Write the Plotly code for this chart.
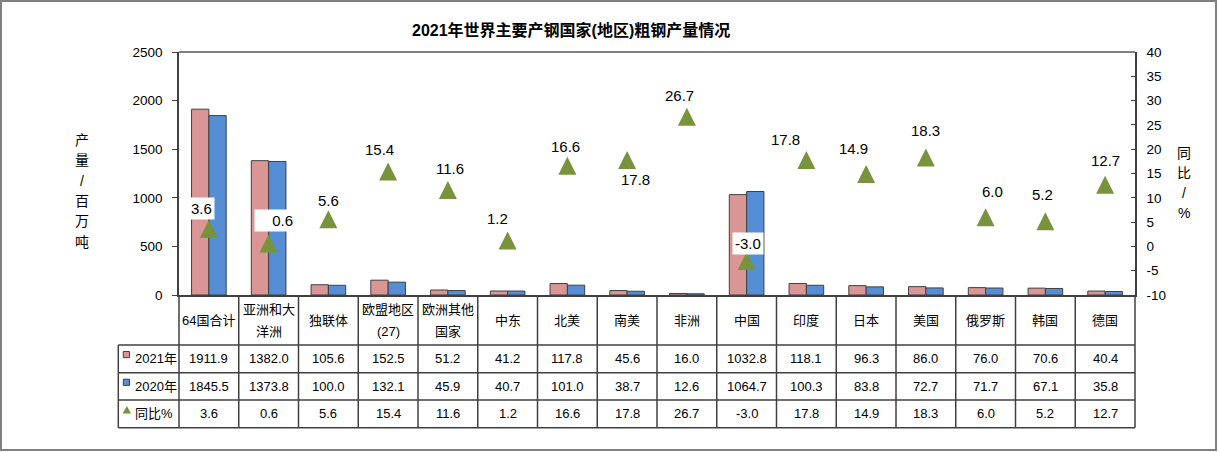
import plotly.graph_objects as go

# ---------------- data ----------------
title = "2021年世界主要产钢国家(地区)粗钢产量情况"
categories = ["64国合计", "亚洲和大洋洲", "独联体", "欧盟地区(27)", "欧洲其他国家", "中东", "北美",
              "南美", "非洲", "中国", "印度", "日本", "美国", "俄罗斯", "韩国", "德国"]
prod_2021 = [1911.9, 1382.0, 105.6, 152.5, 51.2, 41.2, 117.8, 45.6, 16.0, 1032.8, 118.1, 96.3, 86.0, 76.0, 70.6, 40.4]
prod_2020 = [1845.5, 1373.8, 100.0, 132.1, 45.9, 40.7, 101.0, 38.7, 12.6, 1064.7, 100.3, 83.8, 72.7, 71.7, 67.1, 35.8]
yoy = [3.6, 0.6, 5.6, 15.4, 11.6, 1.2, 16.6, 17.8, 26.7, -3.0, 17.8, 14.9, 18.3, 6.0, 5.2, 12.7]
series_names = ["2021年", "2020年", "同比%"]
left_title = "产量/百万吨"
right_title = "同比/%"
right_ticks = [-10, -5, 0, 5, 10, 15, 20, 25, 30, 35, 40]

# ---------------- layout helpers ----------------
W, H = 1219, 452
ML, MR, MT, MB = 179, 84, 52, 157
PW, PH = W - ML - MR, H - MT - MB
n = len(categories)

def px(x):
    return (x - ML) / PW

def py(y):
    return (H - MB - y) / PH

FONT = "Liberation Sans, Arial, Noto Sans CJK SC, sans-serif"
C21, C20, CY = "#D99694", "#558ED5", "#77933C"
EDGE = "#404040"

# label offsets (dx, dy px) and white-box flags for the yoy labels
label_off = [(-7, 20), (6, 23), (0, 19), (-9, 22), (2, 22), (-10, 22), (-2, 19), (8, -20),
             (-7, 21), (1.5, 17), (-21, 20), (-13, 25), (0, 27), (7, 26), (-3, 27), (0, 24)]
label_box = {0: None, 1: 36, 9: None}

fig = go.Figure()
fig.add_trace(go.Bar(x=categories, y=prod_2021, name=series_names[0],
                     marker=dict(color=C21, line=dict(color=EDGE, width=1))))
fig.add_trace(go.Bar(x=categories, y=prod_2020, name=series_names[1],
                     marker=dict(color=C20, line=dict(color=EDGE, width=1))))
fig.add_trace(go.Scatter(x=categories, y=yoy, name=series_names[2], yaxis="y2", mode="markers",
                         marker=dict(symbol="arrow-down", angle=180, standoff=9, size=18,
                                     color=CY, line=dict(width=0))))

ann = []
shapes = []

# title
ann.append(dict(text="<b>" + title + "</b>", xref="paper", yref="paper", x=px(571), y=py(30.5),
                xanchor="center", yanchor="middle", showarrow=False,
                font=dict(size=16, family=FONT, color="black")))

# axis titles (stacked characters)
for i, ch in enumerate(left_title):
    ann.append(dict(text=ch, xref="paper", yref="paper", x=px(82), y=py(140 + i * 20.3),
                    xanchor="center", yanchor="middle", showarrow=False,
                    font=dict(size=14, family=FONT, color="black")))
for i, ch in enumerate(right_title):
    ann.append(dict(text=ch, xref="paper", yref="paper", x=px(1184), y=py(152.5 + i * 20.3),
                    xanchor="center", yanchor="middle", showarrow=False,
                    font=dict(size=14, family=FONT, color="black")))

# yoy data labels
for i, (c, v) in enumerate(zip(categories, yoy)):
    dx, dy = label_off[i]
    a = dict(text=f"{v:.1f}", x=c, y=v, xref="x", yref="y2", showarrow=False,
             xanchor="center", yanchor="middle", xshift=dx, yshift=dy,
             font=dict(size=15, family=FONT, color="black"))
    if i in label_box:
        a["bgcolor"] = "white"
        a["borderpad"] = 2
        if label_box[i]:
            a["width"] = label_box[i]
            a["align"] = "right"
    ann.append(a)

# ---------------- data table ----------------
rows_y = [295, 345, 372.7, 400, 427.7]
x_left = 118.3

def wrap(s, limit=8):
    w = 0
    for i, ch in enumerate(s):
        w += 2 if ord(ch) > 255 else 1
        if w > limit:
            return [s[:i], s[i:]]
    return [s]

for c in categories:
    lines = wrap(c)
    if len(lines) == 1:
        ys = [320]
    else:
        ys = [309.5, 331.5]
    for t, yy in zip(lines, ys):
        ann.append(dict(text=t, x=c, xref="x", y=py(yy), yref="paper", showarrow=False,
                        xanchor="center", yanchor="middle",
                        font=dict(size=13, family=FONT, color="black")))

table_rows = [prod_2021, prod_2020, yoy]
for r, vals in enumerate(table_rows):
    yc = (rows_y[r + 1] + rows_y[r + 2]) / 2
    for c, v in zip(categories, vals):
        ann.append(dict(text=f"{v:.1f}", x=c, xref="x", y=py(yc), yref="paper", showarrow=False,
                        xanchor="center", yanchor="middle",
                        font=dict(size=13, family=FONT, color="black")))
    ann.append(dict(text=series_names[r], x=px(132.5), xref="paper", y=py(yc), yref="paper",
                    showarrow=False, xanchor="left", yanchor="middle",
                    font=dict(size=13, family=FONT, color="black")))

# legend keys in the table
for r, col in enumerate([C21, C20]):
    yt = rows_y[r + 1] + 6.5
    shapes.append(dict(type="rect", xref="paper", yref="paper", x0=px(123.3), x1=px(129.5),
                       y0=py(yt + 6.2), y1=py(yt), fillcolor=col, line=dict(color=EDGE, width=1)))
yt = rows_y[3] + 6
shapes.append(dict(type="path", xref="paper", yref="paper",
                   path=f"M{px(122.7)},{py(yt + 7.5)} L{px(131)},{py(yt + 7.5)} L{px(126.85)},{py(yt)} Z",
                   fillcolor=CY, line=dict(width=0)))

LINE = dict(color=EDGE, width=1.5)
# horizontal lines
for yy in rows_y[1:]:
    shapes.append(dict(type="line", xref="paper", yref="paper", x0=px(x_left), x1=1,
                       y0=py(yy), y1=py(yy), line=LINE))
# vertical lines
for i in range(n + 1):
    xx = i / n
    shapes.append(dict(type="line", xref="paper", yref="paper", x0=xx, x1=xx,
                       y0=py(rows_y[0]), y1=py(rows_y[-1]), line=LINE))
shapes.append(dict(type="line", xref="paper", yref="paper", x0=px(x_left), x1=px(x_left),
                   y0=py(rows_y[1]), y1=py(rows_y[-1]), line=LINE))
# top border of plot area
shapes.append(dict(type="line", xref="paper", yref="paper", x0=0, x1=1, y0=1, y1=1,
                   line=dict(color="#808080", width=2)))
# outer chart border
shapes.append(dict(type="rect", xref="paper", yref="paper", x0=px(1), x1=px(1216),
                   y0=py(450), y1=py(1), line=dict(color="#808080", width=2),
                   fillcolor="rgba(0,0,0,0)", layer="below"))

fig.update_layout(
    width=W, height=H, autosize=False,
    margin=dict(l=ML, r=MR, t=MT, b=MB, pad=0),
    paper_bgcolor="white", plot_bgcolor="white",
    showlegend=False, barmode="group", bargap=0.42, bargroupgap=0,
    font=dict(family=FONT, size=13, color="black"),
    xaxis=dict(type="category", range=[-0.5, n - 0.5], showticklabels=False, ticks="",
               showline=True, linecolor=EDGE, linewidth=1.5, showgrid=False, zeroline=False,
               fixedrange=True),
    yaxis=dict(range=[0, 2500], dtick=500, tick0=0, showline=True, linecolor=EDGE, linewidth=1.5,
               ticks="outside", ticklen=5, tickcolor=EDGE, showgrid=False, zeroline=False,
               ticklabelstandoff=7, tickfont=dict(size=13.5, family=FONT, color="black")),
    yaxis2=dict(range=[-10, 40], tickmode="array", tickvals=right_ticks,
                ticktext=[str(t) for t in right_ticks], overlaying="y", side="right", showline=True,
                linecolor=EDGE, linewidth=1.5, ticks="inside", ticklen=4, tickcolor=EDGE,
                showgrid=False, zeroline=False, ticklabelstandoff=7,
                tickfont=dict(size=13.5, family=FONT, color="black")),
    annotations=ann,
    shapes=shapes,
)

fig.write_html("out.html", config={"displayModeBar": False},
               post_script="document.body.style.margin='0px';")
